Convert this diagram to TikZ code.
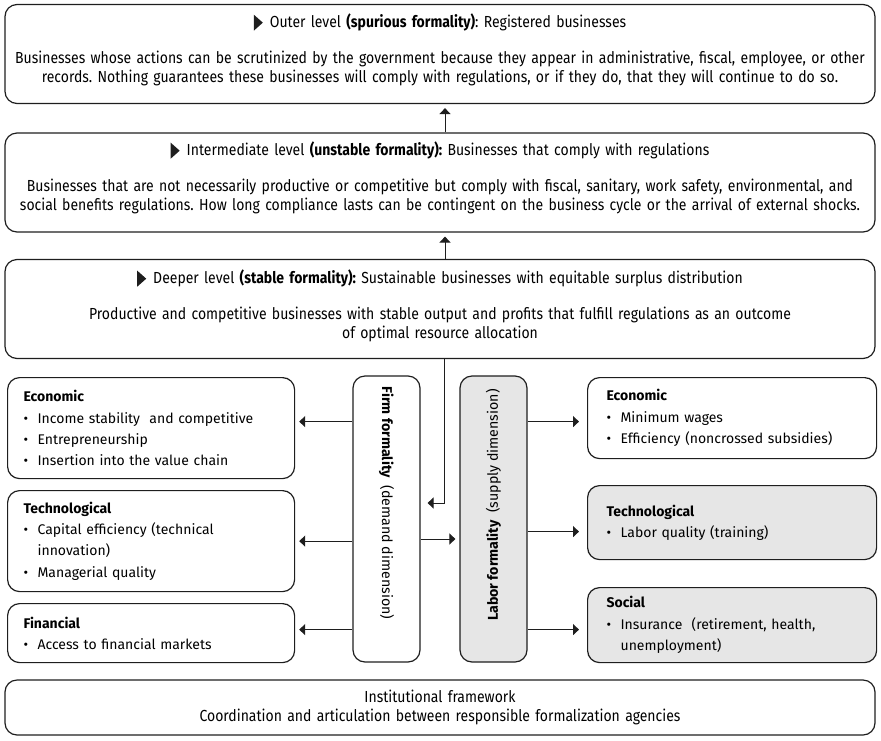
\documentclass[tikz,border=0pt]{standalone}
\usepackage{fontspec}
\setmainfont{Fira Sans}
\newfontfamily\condensed[FakeStretch=0.875]{Fira Sans}
\usetikzlibrary{arrows.meta,positioning}
\definecolor{Ink}{HTML}{1E1E1E}
\definecolor{Shade}{HTML}{E6E6E6}
\newcommand{\levelmark}{\tikz[baseline=0pt]\fill[Ink,sharp corners](0pt,-3pt)--(0pt,13pt)--(9pt,5pt)--cycle;\hspace{7pt}}
\newcommand{\itm}{\makebox[14pt][l]{\textbullet}}
\newcommand{\itmgap}{\hspace*{14pt}}
\newcommand{\liftby}[1]{\par\vspace{#1}\hrule height 0pt}
\frenchspacing

\begin{document}
\begin{tikzpicture}[x=1pt,y=-1pt,
  level/.style={draw=Ink,line width=1.2pt,rounded corners=12pt,minimum width=870pt,minimum height=99pt,
    text width=866pt,align=center,inner sep=0pt,font=\condensed\fontsize{16}{19.5}\selectfont},
  factor/.style={draw=Ink,line width=1.2pt,rounded corners=12pt,anchor=north west,
    text width=255pt,align=left,inner xsep=16pt,inner ysep=0pt,font=\fontsize{14}{21.3}\selectfont},
  dimbox/.style={draw=Ink,line width=1.2pt,rounded corners=12pt,minimum width=67pt,minimum height=286pt},
  dimtext/.style={font=\fontsize{14.2}{16}\selectfont,inner sep=0pt},
  arrow/.style={-{Triangle[length=6pt,width=11pt]},line width=1pt,draw=Ink,shorten >=4pt}]
\useasboundingbox (0,0) rectangle (881,740);

% three levels of formality
\node[level](outer) at (440,54){\levelmark Outer level \textbf{(spurious formality)}: Registered businesses\\[16pt]
  Businesses whose actions can be scrutinized by the government because they appear in administrative, fiscal, employee, or other\\
  records. Nothing guarantees these businesses will comply with regulations, or if they do, that they will continue to do so.\liftby{8pt}};
\node[level](inter) at (440,182.5){\levelmark Intermediate level \textbf{(unstable formality):} Businesses that comply with regulations\\[16pt]
  Businesses that are not necessarily productive or competitive but comply with fiscal, sanitary, work safety, environmental, and\\
  social benefits regulations. How long compliance lasts can be contingent on the business cycle or the arrival of external shocks.\liftby{9pt}};
\node[level](deeper) at (440,309){\levelmark Deeper level \textbf{(stable formality):} Sustainable businesses with equitable surplus distribution\\[16pt]
  Productive and competitive businesses with stable output and profits that fulfill regulations as an outcome\\
  of optimal resource allocation\liftby{6pt}};

% demand and supply dimensions
\node[dimbox](firm) at (386.5,519){};
\node[dimbox,fill=Shade](lab) at (493.5,519){};
\node[dimtext,rotate=-90](firmtxt) at (386.5,503){\textbf{Firm formality}\ \ (demand dimension)};
\node[dimtext,rotate=90](labtxt) at (493.5,505){\textbf{Labor formality}\ \ (supply dimension)};

% firm side
\node[factor,minimum height=101pt](econL) at (7,377){\textbf{Economic}\\
  \itm Income stability\ \ and competitive\\ \itm Entrepreneurship\\ \itm Insertion into the value chain};
\node[factor,minimum height=101pt](techL) at (7,490){\textbf{Technological}\\
  \itm Capital efficiency (technical\\ \itmgap innovation)\\ \itm Managerial quality};
\node[factor,minimum height=59pt](finL) at (7,603){\textbf{Financial}\\ \itm Access to financial markets};

% labor side
\node[factor,inner xsep=19pt,text width=251pt,minimum height=81pt](econR) at (587,377){\textbf{Economic}\\
  \itm Minimum wages\\ \itm Efficiency (noncrossed subsidies)};
\node[factor,inner xsep=19pt,text width=251pt,minimum height=74pt,fill=Shade](techR) at (587,485){\textbf{Technological}\\
  \itm Labor quality (training)};
\node[factor,inner xsep=19pt,text width=251pt,minimum height=75pt,fill=Shade](socR) at (587,587){\textbf{Social}\\
  \itm Insurance\ \ (retirement, health,\\ \itmgap unemployment)};

\node[level,minimum height=55pt](inst) at (440,707.5){Institutional framework\\
  Coordination and articulation between responsible formalization agencies};

\draw[arrow]([xshift=5pt]inter.north)--([xshift=5pt]outer.south);
\draw[arrow]([xshift=5pt]deeper.north)--([xshift=5pt]inter.south);
\draw[arrow,shorten >=7pt]([xshift=4pt]deeper.south)|-([yshift=16pt]firm.east);
\draw[arrow]([yshift=-20pt]firm.east)--([yshift=-20pt]lab.west);
\draw[arrow]([yshift=6.5pt]econL.east -| firm.west)--([yshift=6.5pt]econL.east);
\draw[arrow](techL.east -| firm.west)--(techL.east);
\draw[arrow]([yshift=3.5pt]finL.east -| firm.west)--([yshift=3.5pt]finL.east);
\draw[arrow,shorten >=8pt]([yshift=-3.5pt]econR.west -| lab.east)--([yshift=-3.5pt]econR.west);
\draw[arrow,shorten >=8pt]([yshift=-9pt]techR.west -| lab.east)--([yshift=-9pt]techR.west);
\draw[arrow,shorten >=8pt]([yshift=-4.5pt]socR.west -| lab.east)--([yshift=-4.5pt]socR.west);
\end{tikzpicture}
\end{document}
